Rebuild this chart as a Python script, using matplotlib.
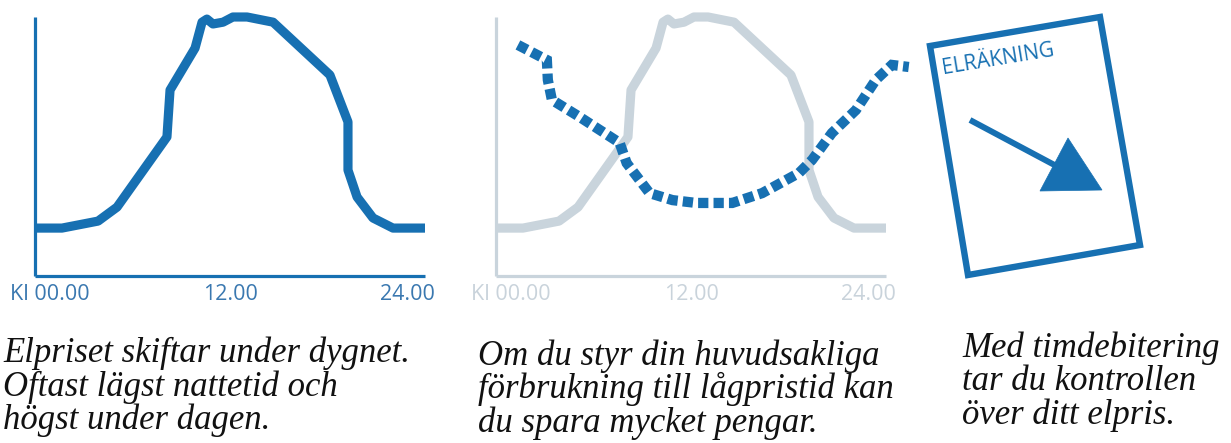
import matplotlib
matplotlib.use("Agg")
import matplotlib.pyplot as plt
from matplotlib.patches import Polygon

# ---------------- data ----------------
price_hours = [0, 1.66, 3.88, 5.05, 8.12, 8.31, 9.85, 10.28, 10.58, 10.95, 11.57,
               12.18, 13.05, 14.65, 18.15, 19.26, 19.26, 19.82, 20.8, 22.03, 24]
price_values = [18.5, 18.5, 21.2, 26.6, 53.7, 71.8, 88, 98, 99.2, 97.3, 98,
                100, 100, 98, 77.6, 59.5, 40.9, 30.5, 22.4, 18.5, 18.5]

usage_hours = [1.35, 3.13, 3.19, 3.44, 5.15, 7.61, 8.04, 9.45, 10.86, 12.33, 14.54,
               16.38, 18.65, 19.45, 20.67, 22.15, 23.37, 24.36, 25.4]
usage_values = [89.2, 83.4, 75.7, 68, 61.4, 51.4, 43.6, 32, 29.3, 28.2, 28.2,
                32, 39.8, 44.8, 55.2, 64.1, 75.7, 81.5, 80.7]

tick_labels = ["Kl 00.00", "12.00", "24.00"]

captions = [
    ["Elpriset skiftar under dygnet.", "Oftast lägst nattetid och", "högst under dagen."],
    ["Om du styr din huvudsakliga", "förbrukning till lågpristid kan", "du spara mycket pengar."],
    ["Med timdebitering", "tar du kontrollen", "över ditt elpris."],
]
bill_title = "ELRÄKNING"

# ---------------- style ----------------
W, H = 1231, 443
BLUE = "#1770b2"
GREY = "#c9d4dc"
LABEL_BLUE = "#3a78b0"
LABEL_GREY = "#c9d3db"

fig = plt.figure(figsize=(W / 100, H / 100), dpi=100)
fig.patch.set_facecolor("white")


def make_axes(left_px):
    ax = fig.add_axes([left_px / W, (H - 276) / H, 390 / W, 259 / H])
    ax.set_xlim(0, 24)
    ax.set_ylim(0, 100)
    ax.axis("off")
    return ax


def draw_axis_frame(ax, color):
    ax.plot([0, 0], [0, 100], color=color, lw=2.3, clip_on=False, solid_capstyle="butt")
    ax.plot([0, 24], [0, 0], color=color, lw=2.3, clip_on=False, solid_capstyle="butt")


def draw_labels(ax, color):
    trans = ax.get_xaxis_transform()
    y = -0.073
    kw = dict(color=color, fontsize=15.5, family="Open Sans", fontweight="normal",
              va="center", transform=trans)
    ax.text(-1.55, y, tick_labels[0], ha="left", **kw)
    ax.text(12, y, tick_labels[1], ha="center", **kw)
    ax.text(24.6, y, tick_labels[2], ha="right", **kw)


# Panel 1
ax1 = make_axes(35)
draw_axis_frame(ax1, BLUE)
ax1.plot(price_hours, price_values, color=BLUE, lw=6.6, solid_joinstyle="round",
         solid_capstyle="butt", clip_on=False)
draw_labels(ax1, LABEL_BLUE)

# Panel 2
ax2 = make_axes(496)
draw_axis_frame(ax2, GREY)
ax2.plot(price_hours, price_values, color=GREY, lw=6.6, solid_joinstyle="round",
         solid_capstyle="butt", clip_on=False)
ax2.plot(usage_hours, usage_values, color=BLUE, lw=7.4, linestyle=(0, (1.0, 0.5)),
         dash_capstyle="butt", dash_joinstyle="miter", clip_on=False)
draw_labels(ax2, LABEL_GREY)

# Panel 3 : bill icon (decoration, pixel overlay)
ov = fig.add_axes([0, 0, 1, 1])
ov.set_xlim(0, W)
ov.set_ylim(H, 0)
ov.axis("off")
ov.add_patch(Polygon([(930, 46), (1100, 17), (1140, 245), (968, 275)], closed=True,
                     fill=False, edgecolor=BLUE, lw=4.6, joinstyle="miter"))
ov.text(943, 74, bill_title, rotation=9.4, rotation_mode="anchor", ha="left", va="baseline",
        color=BLUE, fontsize=15, family="Open Sans", fontweight="normal")
ov.plot([970, 1062], [120, 169], color=BLUE, lw=4.3, solid_capstyle="butt")
ov.add_patch(Polygon([(1102, 190), (1068, 138), (1040, 191)], closed=True,
                     facecolor=BLUE, edgecolor=BLUE, lw=0.5))

# Captions
cap_x = [3, 478, 962]
cap_y0 = [362, 365, 357]
for cx, cy, lines in zip(cap_x, cap_y0, captions):
    for i, line in enumerate(lines):
        ov.text(cx, cy + i * 33.5, line, ha="left", va="baseline", fontsize=25,
                family="Liberation Serif", style="italic", color="#111111")

fig.savefig("out.png", dpi=100, facecolor="white")
